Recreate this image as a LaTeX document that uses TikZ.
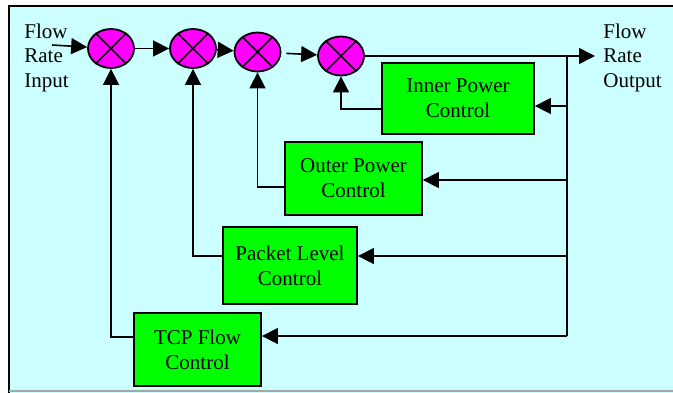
\documentclass[tikz,border=0pt]{standalone}
\usepackage{fontspec}
\setmainfont{Liberation Serif}
\usetikzlibrary{arrows.meta, shapes.geometric}

\definecolor{panel}{RGB}{204,255,255}
\definecolor{mixfill}{RGB}{255,0,255}
\definecolor{boxfill}{RGB}{0,255,0}

\begin{document}
\begin{tikzpicture}[x=0.5pt, y=-0.5pt,
  mix/.style={draw, ellipse, fill=mixfill, line width=0.9pt,
              minimum width=23pt, minimum height=19.5pt, inner sep=0pt},
  box/.style={draw, fill=boxfill, line width=0.9pt, align=center,
              font=\rmfamily\fontsize{10.5}{12.5}\selectfont, inner sep=0pt},
  lbl/.style={align=left, inner sep=0pt,
              font=\rmfamily\fontsize{10.5}{12.25}\selectfont},
  arr/.style={-{Triangle[length=8pt,width=8pt]}, line width=0.8pt},
  ln/.style={line width=0.8pt}
]
  \useasboundingbox (0,0) rectangle (673,392);
  % Panel
  \fill[panel] (9,6) rectangle (680,400);
  \draw[line width=1pt] (9,400) -- (9,6) -- (680,6);
  \draw[gray!70, line width=0.6pt] (9,391) -- (680,391);

  % Forward path
  \node[lbl, anchor=west] (fin) at (24,57.5) {Flow\\Rate\\Input};
  \node[lbl, anchor=west] (fout) at (603,57.5) {Flow\\Rate\\Output};
  \coordinate (in) at (52,45);
  \node[mix] (m1) at (111,48.5) {};
  \node[mix] (m2) at (193,48.5) {};
  \node[mix] (m3) at (257.5,52) {};
  \node[mix] (m4) at (341,56) {};
  \foreach \m in {m1,m2,m3,m4}
    \draw[line width=0.8pt] (\m.45) -- (\m.225) (\m.135) -- (\m.315);
  \coordinate (out) at (595,56);
  \coordinate (bt) at (567,56);

  \draw[arr] (in) -- (m1);
  \draw[arr] (m1) -- (m2);
  \draw[arr] (m2) -- (m3);
  \draw[arr, shorten <=2.5pt] (m3) -- (m4);
  \draw[arr] (m4.east) -- (out);

  % Control loops
  \node[box, minimum width=76pt, minimum height=35.5pt] (inner) at (458,98.5)
       {Inner Power\\Control};
  \node[box, minimum width=68.5pt, minimum height=36.5pt] (outer) at (353.5,178.5)
       {Outer Power\\Control};
  \node[box, minimum width=67pt, minimum height=38.5pt] (pkt) at (290,265.5)
       {Packet Level\\Control};
  \node[box, minimum width=63.5pt, minimum height=36.5pt] (tcp) at (197.5,349.5)
       {TCP Flow\\Control};

  \coordinate (b1) at (567,106);
  \coordinate (b2) at (567,180);
  \coordinate (b3) at (567,256);
  \coordinate (b4) at (567,336);
  \draw[ln] (bt) -- (b4);
  \draw[arr] (b1) -- (b1 -| inner.east);
  \draw[arr] (b2) -- (b2 -| outer.east);
  \draw[arr] (b3) -- (b3 -| pkt.east);
  \draw[arr] (b4) -- (b4 -| tcp.east);

  \draw[arr] ([yshift=-5.25pt]inner.west) -| (m4.south);
  \draw[arr] ([yshift=-4.25pt]outer.west) -| (m3.south);
  \draw[arr] ([yshift=4.75pt]pkt.west) -| (m2.south);
  \draw[arr] ([yshift=6.25pt]tcp.west) -| (m1.south);
\end{tikzpicture}
\end{document}
